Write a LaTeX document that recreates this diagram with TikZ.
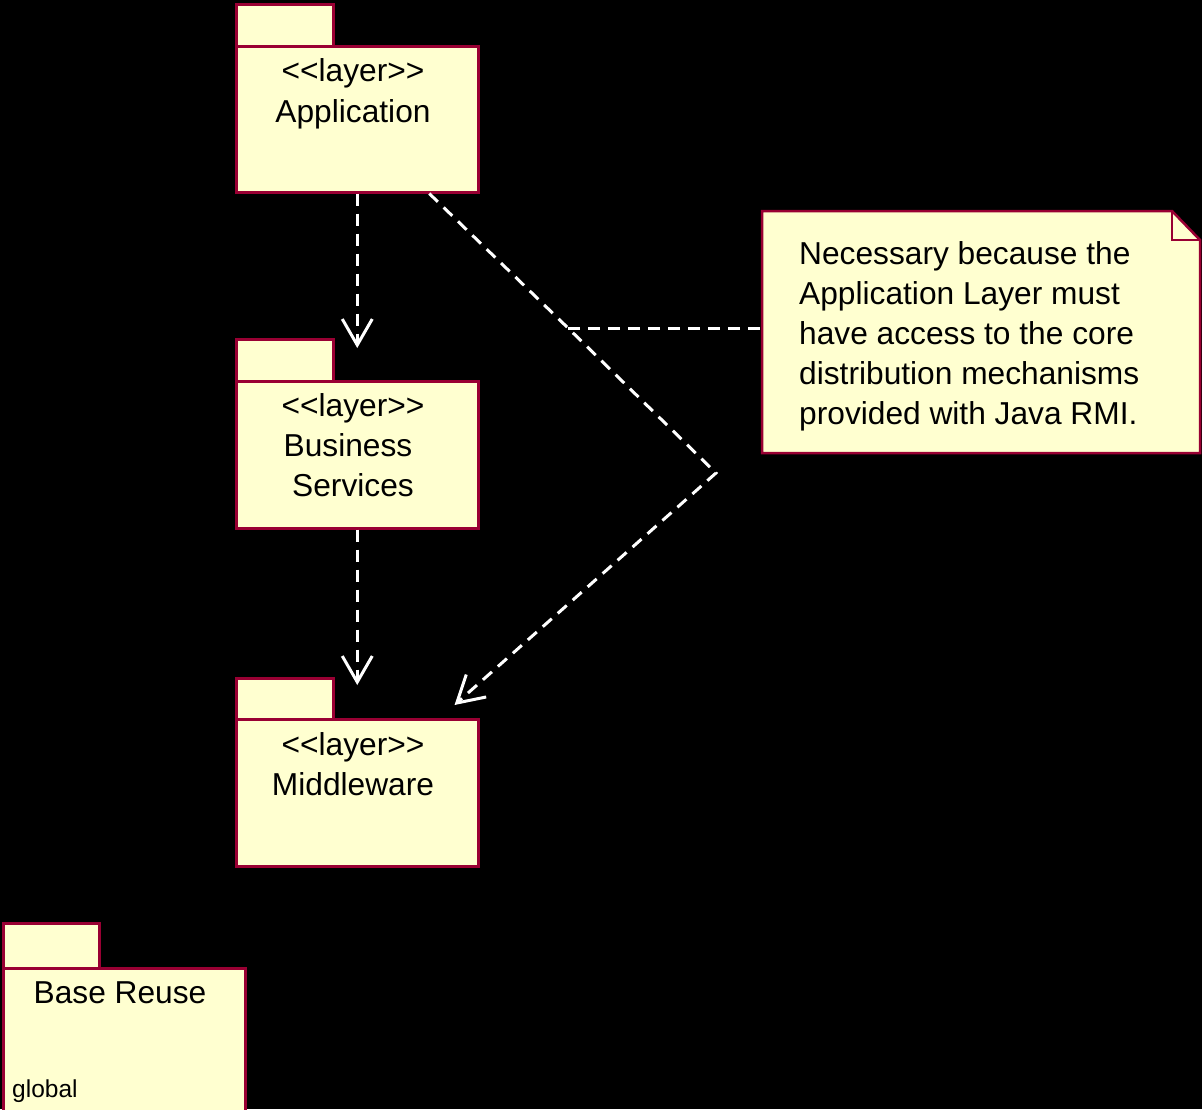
\documentclass[tikz,border=0pt]{standalone}
\usepackage{fontspec}
\setmainfont{Liberation Sans}
\usetikzlibrary{arrows.meta,calc}
\definecolor{pkgfill}{RGB}{255,255,208}
\definecolor{pkgline}{RGB}{153,0,51}
% stereotype text, kerns keep the angle brackets from merging into guillemets
\newcommand\layerst{<\kern0pt<layer>\kern0pt>}
\begin{document}
\begin{tikzpicture}[x=1pt,y=-1pt,
  pkgbody/.style={draw=pkgline,fill=pkgfill,line width=2.5pt,minimum width=242pt,minimum height=146pt,inner sep=0pt,anchor=north west},
  pkgtab/.style={draw=pkgline,fill=pkgfill,line width=2.5pt,minimum width=97pt,minimum height=42pt,inner sep=0pt,anchor=north west},
  label/.style={font=\fontsize{31.7}{40}\selectfont,inner sep=0pt,anchor=base,text=black},
  dep/.style={draw=white,line width=3pt,dash pattern=on 12pt off 8pt,-{Straight Barb[length=26pt,width=30pt,line width=3pt]}},
  link/.style={draw=white,line width=3pt,dash pattern=on 12pt off 8pt}]
% canvas
\fill[black] (0,0) rectangle (1202,1109);
\useasboundingbox (0,0) rectangle (1202,1109);

% Application layer
\node[pkgtab] (apptab) at (235,3) {};
\node[pkgbody] (app) at (235,45) {};
\node[label] (appst) at (353,81) {\layerst};
\node[label] (appname) at (353,122) {Application};

% Business Services layer
\node[pkgtab] (bstab) at (235,338) {};
\node[pkgbody,minimum height=147pt] (bs) at (235,380) {};
\node[label] (bsst) at (353,416) {\layerst};
\node[label] (bsname1) at (348,456) {Business};
\node[label] (bsname2) at (353,496) {Services};

% Middleware layer
\node[pkgtab] (mwtab) at (235,677) {};
\node[pkgbody,minimum height=147pt] (mw) at (235,718) {};
\node[label] (mwst) at (353,755) {\layerst};
\node[label] (mwname) at (353,795) {Middleware};

% Base Reuse package
\node[pkgtab,minimum width=96pt,minimum height=45pt] (brtab) at (2,922) {};
\node[pkgbody,minimum height=160pt] (br) at (2,967) {};
\node[label] (brname) at (120,1003) {Base Reuse};
\node[label,font=\fontsize{24.5}{30}\selectfont,anchor=base west] (brglobal) at (12,1097) {global};

% Note with folded corner
\coordinate (nw) at (762,211);
\coordinate (se) at (1200,453);
\filldraw[draw=pkgline,fill=pkgfill,line width=2.5pt]
  (nw) -- (1172,211) -- (1200,240) -- (se) -- (762,453) -- cycle;
\draw[draw=pkgline,line width=2.5pt] (1172,211) -- (1172,240) -- (1200,240);
\node[inner sep=0pt,minimum width=438pt,minimum height=242pt] (note) at (981,332) {};
\node[label,anchor=base west] (notetext) at (799,264) {Necessary because the};
\node[label,anchor=base west] (notetext2) at (799,304) {Application Layer must};
\node[label,anchor=base west] (notetext3) at (799,344) {have access to the core};
\node[label,anchor=base west] (notetext4) at (799,384) {distribution mechanisms};
\node[label,anchor=base west] (notetext5) at (799,424) {provided with Java RMI.};

% dependencies
\draw[dep] (app.south) -- ($(bs.north)+(0,-32)$);
\draw[dep] (bs.south) -- ($(mw.north)+(0,-33)$);
\coordinate (kink) at (716,473);
\coordinate (junction) at (568,328);
\draw[dep] ($(app.south)+(72,0)$) -- (junction) -- (kink) -- ($(mw.north east)+(-25,-13)$);
\draw[link] (junction) -- (junction -| note.west);
\end{tikzpicture}
\end{document}
